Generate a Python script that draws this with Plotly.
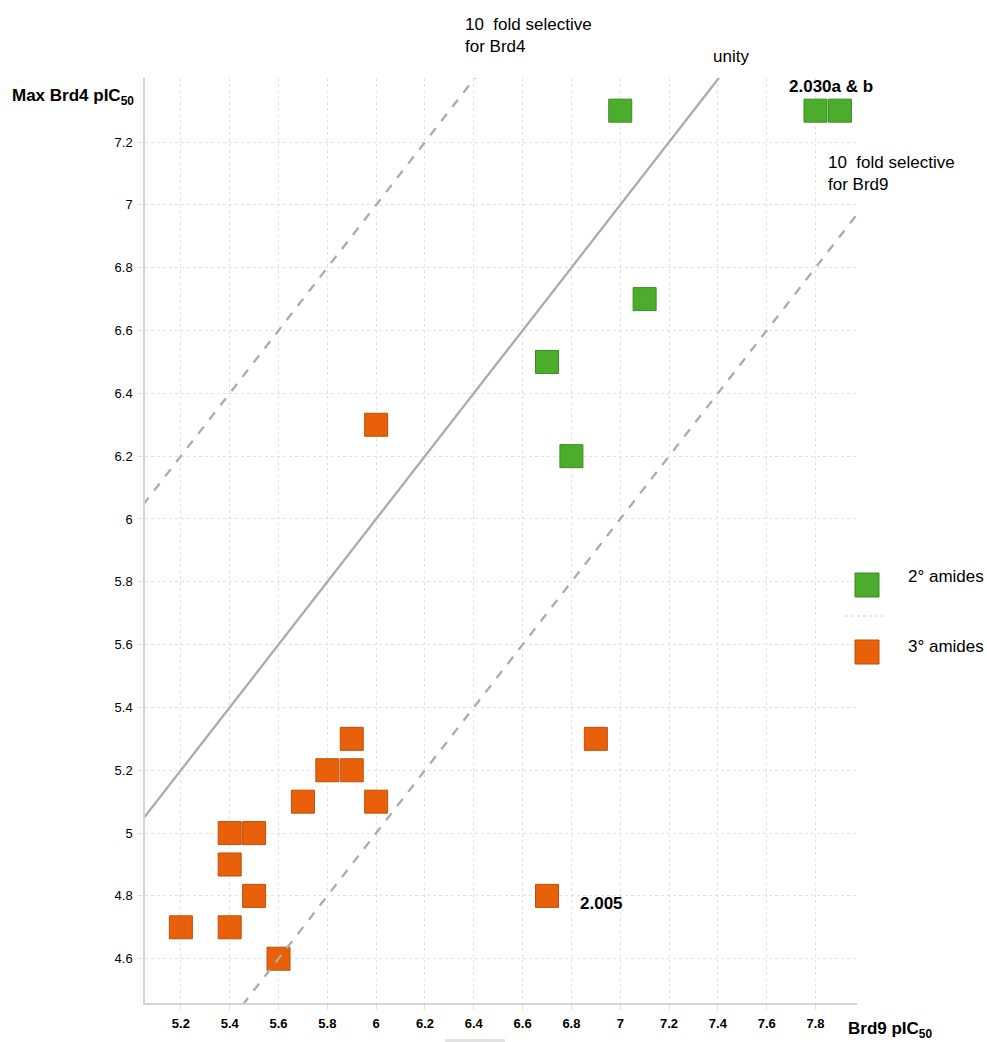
import plotly.graph_objects as go

# Brd9 vs max Brd4 potency (pIC50) for two amide classes
sec_brd9 = [7.0, 7.8, 7.9, 7.1, 6.7, 6.8]
sec_brd4 = [7.3, 7.3, 7.3, 6.7, 6.5, 6.2]

tert_brd9 = [6.0, 5.9, 5.8, 5.9, 5.7, 6.0, 5.4, 5.5, 5.4, 5.5, 5.2, 5.4, 5.6, 6.9, 6.7]
tert_brd4 = [6.3, 5.3, 5.2, 5.2, 5.1, 5.1, 5.0, 5.0, 4.9, 4.8, 4.7, 4.7, 4.6, 5.3, 4.8]

# selectivity reference lines: Brd4 = Brd9 + offset (log units)
ref_offsets = [0.0, 1.0, -1.0]
ref_dash = ["solid", "dash", "dash"]
ref_span = [5.0, 8.2]

x_ticks = [5.2, 5.4, 5.6, 5.8, 6.0, 6.2, 6.4, 6.6, 6.8, 7.0, 7.2, 7.4, 7.6, 7.8]
x_labels = ["5.2", "5.4", "5.6", "5.8", "6", "6.2", "6.4", "6.6", "6.8", "7", "7.2", "7.4", "7.6", "7.8"]
y_ticks = [4.6, 4.8, 5.0, 5.2, 5.4, 5.6, 5.8, 6.0, 6.2, 6.4, 6.6, 6.8, 7.0, 7.2]
y_labels = ["4.6", "4.8", "5", "5.2", "5.4", "5.6", "5.8", "6", "6.2", "6.4", "6.6", "6.8", "7", "7.2"]

x_range = [5.053, 7.97]
y_range = [4.459, 7.404]

GREEN, GREEN_EDGE = "#4cad2d", "#3b8a22"
ORANGE, ORANGE_EDGE = "#e8600a", "#bf4f08"
FONT = "Liberation Sans, Arial, sans-serif"

fig = go.Figure()

fig.add_trace(go.Scatter(
    x=sec_brd9, y=sec_brd4, mode="markers", name="2° amides",
    marker=dict(symbol="square", size=23, color=GREEN,
                line=dict(color=GREEN_EDGE, width=1)),
    cliponaxis=False, showlegend=False))

fig.add_trace(go.Scatter(
    x=tert_brd9, y=tert_brd4, mode="markers", name="3° amides",
    marker=dict(symbol="square", size=23, color=ORANGE,
                line=dict(color=ORANGE_EDGE, width=1)),
    cliponaxis=False, showlegend=False))

for off, dash in zip(ref_offsets, ref_dash):
    fig.add_trace(go.Scatter(
        x=ref_span, y=[v + off for v in ref_span], mode="lines",
        line=dict(color="#ababab", width=2.3, dash=dash),
        hoverinfo="skip", showlegend=False))

L, R, T, B = 145, 130, 78, 39
W, H = 987, 1042
pw, ph = W - L - R, H - T - B


def px(x):
    return (x - L) / pw


def py(y):
    return (H - B - y) / ph


ann = []


def text(x, y, s, size=17, bold=False, xanchor="left", yanchor="middle"):
    ann.append(dict(
        x=px(x), y=py(y), xref="paper", yref="paper", text=s,
        showarrow=False, xanchor=xanchor, yanchor=yanchor, align="left",
        font=dict(family=FONT, size=size, color="#000000",
                  weight="bold" if bold else "normal")))


text(10, 97, "Max Brd4 pIC<sub>50</sub>", bold=True)
text(846, 1030, "Brd9 pIC<sub>50</sub>", bold=True)
text(463, 13, "10  fold selective<br>for Brd4", yanchor="top")
text(711, 56, "unity")
text(787, 86, "2.030a &amp; b", bold=True)
text(826, 151, "10  fold selective<br>for Brd9", yanchor="top")
text(578, 903, "2.005", bold=True)
text(906, 576, "2° amides")
text(906, 646, "3° amides")

shapes = [
    dict(type="rect", xref="paper", yref="paper",
         x0=px(855), x1=px(879), y0=py(597), y1=py(573),
         fillcolor=GREEN, line=dict(color=GREEN_EDGE, width=1)),
    dict(type="rect", xref="paper", yref="paper",
         x0=px(855), x1=px(879), y0=py(664), y1=py(640),
         fillcolor=ORANGE, line=dict(color=ORANGE_EDGE, width=1)),
    dict(type="line", xref="paper", yref="paper",
         x0=px(845), x1=px(885), y0=py(616), y1=py(616),
         line=dict(color="#d0d0d0", width=1, dash="dot")),
    dict(type="rect", xref="paper", yref="paper",
         x0=px(445), x1=px(505), y0=py(1042), y1=py(1039),
         fillcolor="#e2e2e2", line=dict(width=0)),
]

axis_common = dict(
    showgrid=True, gridcolor="#e2e2e2", griddash="dot", gridwidth=1,
    showline=True, linecolor="#d4d4d4", linewidth=1.5,
    zeroline=False, ticks="outside", ticklen=5, tickcolor="#e2e2e2",
    tickwidth=1, ticklabelstandoff=3,
)

fig.update_layout(
    width=W, height=H,
    margin=dict(l=L, r=R, t=T, b=B),
    paper_bgcolor="white", plot_bgcolor="white",
    font=dict(family=FONT, size=13, color="#000000"),
    xaxis=dict(range=x_range, tickmode="array", tickvals=x_ticks,
               ticktext=x_labels,
               tickfont=dict(family=FONT, size=13, weight="bold"),
               **axis_common),
    yaxis=dict(range=y_range, tickmode="array", tickvals=y_ticks,
               ticktext=y_labels,
               tickfont=dict(family=FONT, size=13),
               **axis_common),
    annotations=ann, shapes=shapes, showlegend=False,
)

fig.write_html("out.html")
